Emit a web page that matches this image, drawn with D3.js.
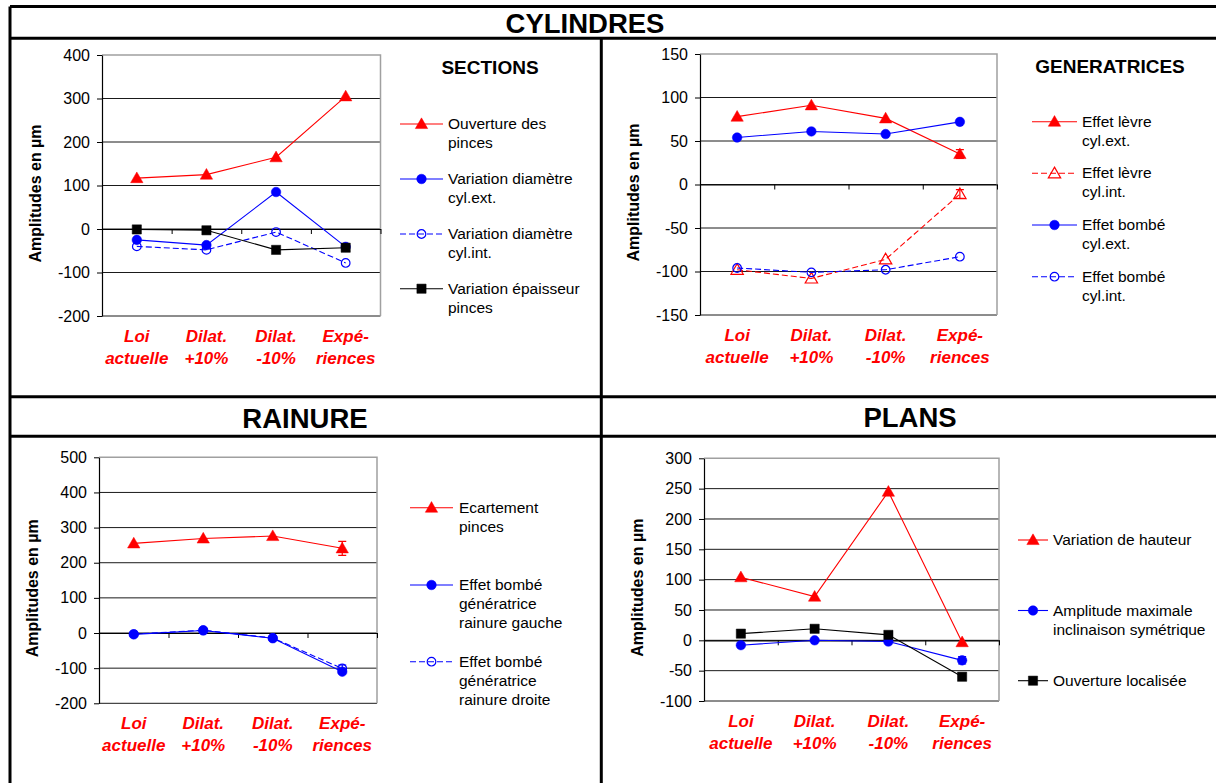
<!DOCTYPE html>
<html>
<head>
<meta charset="utf-8">
<script src="https://cdnjs.cloudflare.com/ajax/libs/d3/7.8.5/d3.min.js"></script>
<style>
    body { margin: 0; background: #fff; }
    svg { display: block; }
</style>
</head>
<body>
<div id="canvas"></div>
<script>
"use strict"

/* categories shared by the four charts (two lines each) */
let categories = [["Loi", "actuelle"], ["Dilat.", "+10%"], ["Dilat.", "-10%"], ["Expé-", "riences"]];

/* SECTIONS */
let sectionsTicks = [-200, -100, 0, 100, 200, 300, 400];
let ouverturePinces = [117, 125, 165, 305];
let diamCylExt = [-25, -37, 85, -41];
let diamCylInt = [-40, -48, -7, -78];
let epaisseurPinces = [-1, -3, -48, -43];

/* GENERATRICES */
let generatricesTicks = [-150, -100, -50, 0, 50, 100, 150];
let levreCylExt = [78, 91, 76, 35];
let levreCylExtErr = [0, 0, 0, 5];
let levreCylInt = [-98, -108, -86, -11];
let levreCylIntErr = [0, 0, 0, 5];
let bombeCylExt = [54, 61, 58, 72];
let bombeCylInt = [-96, -101, -98, -83];

/* RAINURE */
let rainureTicks = [-200, -100, 0, 100, 200, 300, 400, 500];
let ecartementPinces = [255, 269, 276, 241];
let ecartementErr = [0, 0, 0, 20];
let bombeGauche = [-4, 7, -15, -110];
let bombeDroite = [-3, 8, -14, -101];
let bombeDroiteErr = [0, 0, 0, 10];

/* PLANS */
let plansTicks = [-100, -50, 0, 50, 100, 150, 200, 250, 300];
let hauteur = [104, 72, 245, -3];
let inclinaison = [-8, 0, -2, -33];
let inclinaisonErr = [0, 0, 0, 6];
let ouvertureLocalisee = [11, 19, 9, -60];

let font = "'Liberation Sans', Arial, sans-serif";

let drawing = d3.select("#canvas")
    .append("svg")
    .attr("width", 1216)
    .attr("height", 783);

drawing.append("rect")
    .attr("width", 1216)
    .attr("height", 783)
    .attr("fill", "white");

/* black frame of the table */
let frameLines = [
    [10, 6.5, 1216, 6.5],
    [10, 6.5, 10, 783],
    [10, 38.3, 1216, 38.3],
    [601.3, 38.3, 601.3, 783],
    [10, 396.7, 1216, 396.7],
    [10, 436.3, 1216, 436.3]
];
drawing.selectAll(".frame")
    .data(frameLines)
    .enter()
    .append("line")
    .attr("x1", d => d[0])
    .attr("y1", d => d[1])
    .attr("x2", d => d[2])
    .attr("y2", d => d[3])
    .attr("stroke", "black")
    .attr("stroke-width", 3);

/* big titles of the table */
let bigTitles = [["CYLINDRES", 585, 33], ["RAINURE", 305, 428], ["PLANS", 910, 427]];
drawing.selectAll(".bigTitle")
    .data(bigTitles)
    .enter()
    .append("text")
    .attr("x", d => d[1])
    .attr("y", d => d[2])
    .attr("text-anchor", "middle")
    .attr("font-family", font)
    .attr("font-weight", "bold")
    .attr("font-size", 27.5)
    .text(d => d[0]);

function drawPanel(p) {
    let g = drawing.append("g");
    let ticks = p.ticks;

    let x = d3.scaleBand()
        .domain(d3.range(categories.length))
        .range([p.left, p.right]);
    let xEdge = d3.scaleLinear()
        .domain([0, categories.length])
        .range([p.left, p.right]);
    let y = d3.scaleLinear()
        .domain([d3.min(ticks), d3.max(ticks)])
        .range([p.bottom, p.top]);
    let cx = i => x(i) + x.bandwidth() / 2;

    /* gridlines */
    g.selectAll(".grid")
        .data(ticks.slice(0, -1))
        .enter()
        .append("line")
        .attr("x1", p.left)
        .attr("x2", p.right)
        .attr("y1", d => y(d))
        .attr("y2", d => y(d))
        .attr("stroke", "#1a1a1a")
        .attr("stroke-width", 1);

    /* grey border of the plot area (top and right) */
    g.append("path")
        .attr("d", `M${p.left},${y(d3.max(ticks))}H${p.right}V${p.bottom}`)
        .attr("fill", "none")
        .attr("stroke", "#a0a0a0")
        .attr("stroke-width", 1.5);

    /* y axis */
    let yAxis = g.append("g")
        .attr("transform", `translate(${p.left},0)`)
        .call(d3.axisLeft(y).tickValues(ticks).tickFormat(d => String(d)).tickSize(5).tickSizeOuter(0).tickPadding(7));
    yAxis.select(".domain").attr("stroke", "black").attr("stroke-width", 1.2);
    yAxis.selectAll(".tick line").attr("stroke", "black");
    yAxis.selectAll("text")
        .attr("font-family", font)
        .attr("font-size", 16)
        .attr("fill", "black");

    /* category axis, crossing at zero */
    let xAxis = g.append("g")
        .attr("transform", `translate(0,${y(0)})`)
        .call(d3.axisBottom(xEdge).tickValues(d3.range(1, categories.length + 1)).tickSize(5).tickSizeOuter(0).tickFormat(""));
    xAxis.select(".domain").attr("stroke", "black").attr("stroke-width", 1.2);
    xAxis.selectAll(".tick line").attr("stroke", "black");

    /* red category labels */
    let labels = g.selectAll(".catLabel")
        .data(categories)
        .enter()
        .append("text")
        .attr("text-anchor", "middle")
        .attr("font-family", font)
        .attr("font-weight", "bold")
        .attr("font-style", "italic")
        .attr("font-size", 17)
        .attr("fill", "#ff0000");
    labels.append("tspan")
        .attr("x", (d, i) => cx(i))
        .attr("y", p.bottom + 26)
        .text(d => d[0]);
    labels.append("tspan")
        .attr("x", (d, i) => cx(i))
        .attr("y", p.bottom + 48)
        .text(d => d[1]);

    /* y axis title */
    g.append("text")
        .attr("transform", `translate(${p.left - 67},${(p.top + p.bottom) / 2 + 8}) rotate(-90)`)
        .attr("text-anchor", "middle")
        .attr("dy", "0.35em")
        .attr("font-family", font)
        .attr("font-weight", "bold")
        .attr("font-size", 16)
        .text("Amplitudes en µm");

    /* chart subtitle */
    if (p.subtitle) {
        g.append("text")
            .attr("x", p.subtitleX)
            .attr("y", p.top + 19)
            .attr("text-anchor", "middle")
            .attr("font-family", font)
            .attr("font-weight", "bold")
            .attr("font-size", 19)
            .text(p.subtitle);
    }

    let line = d3.line()
        .x((d, i) => cx(i))
        .y(d => y(d));

    p.series.forEach(function (s, k) {
        let sg = g.append("g");
        sg.append("path")
            .attr("d", line(s.values))
            .attr("fill", "none")
            .attr("stroke", s.color)
            .attr("stroke-width", 1.1)
            .attr("stroke-dasharray", s.dashed ? "6,3" : null);

        /* error bars */
        if (s.err) {
            s.values.forEach(function (v, i) {
                if (!s.err[i]) return;
                let eb = d3.path();
                eb.moveTo(cx(i), y(v - s.err[i]));
                eb.lineTo(cx(i), y(v + s.err[i]));
                eb.moveTo(cx(i) - 4, y(v - s.err[i]));
                eb.lineTo(cx(i) + 4, y(v - s.err[i]));
                eb.moveTo(cx(i) - 4, y(v + s.err[i]));
                eb.lineTo(cx(i) + 4, y(v + s.err[i]));
                sg.append("path")
                    .attr("d", eb.toString())
                    .attr("fill", "none")
                    .attr("stroke", s.color)
                    .attr("stroke-width", 1.2);
            });
        }

        let sym = d3.symbol().type(s.marker).size(s.size);
        sg.selectAll(".pt")
            .data(s.values)
            .enter()
            .append("path")
            .attr("d", sym())
            .attr("transform", (d, i) => `translate(${cx(i)},${y(d) + (s.marker === d3.symbolTriangle ? 1 : 0)})`)
            .attr("fill", s.filled ? s.color : "none")
            .attr("stroke", s.color)
            .attr("stroke-width", s.filled ? 0.5 : 1.2);

        /* legend entry */
        let ly = p.legendY[k];
        let lg = g.append("g");
        lg.append("line")
            .attr("x1", p.legendX1)
            .attr("x2", p.legendX2)
            .attr("y1", ly)
            .attr("y2", ly)
            .attr("stroke", s.color)
            .attr("stroke-width", 1.1)
            .attr("stroke-dasharray", s.dashed ? "6,3" : null);
        lg.append("path")
            .attr("d", sym())
            .attr("transform", `translate(${(p.legendX1 + p.legendX2) / 2},${ly + (s.marker === d3.symbolTriangle ? 1 : 0)})`)
            .attr("fill", s.filled ? s.color : "white")
            .attr("fill-opacity", s.filled ? 1 : 0)
            .attr("stroke", s.color)
            .attr("stroke-width", s.filled ? 0.5 : 1.2);
        let lt = lg.append("text")
            .attr("font-family", font)
            .attr("font-size", 15.5)
            .attr("fill", "black");
        s.name.forEach(function (n, j) {
            lt.append("tspan")
                .attr("x", p.legendTextX)
                .attr("y", ly + 5 + j * 19)
                .text(n);
        });
    });
}

let triSize = 66, circSize = 72, hollowSize = 58, sqSize = 85;

drawPanel({
    left: 102, right: 380.5, top: 55, bottom: 316,
    ticks: sectionsTicks,
    subtitle: "SECTIONS", subtitleX: 490,
    legendX1: 400, legendX2: 443, legendTextX: 448,
    legendY: [124, 179, 234, 288.7],
    series: [
        { name: ["Ouverture des", "pinces"], values: ouverturePinces, color: "#ff0000", marker: d3.symbolTriangle, size: triSize, filled: true },
        { name: ["Variation diamètre", "cyl.ext."], values: diamCylExt, color: "#0000ff", marker: d3.symbolCircle, size: circSize, filled: true },
        { name: ["Variation diamètre", "cyl.int."], values: diamCylInt, color: "#0000ff", marker: d3.symbolCircle, size: hollowSize, filled: false, dashed: true },
        { name: ["Variation épaisseur", "pinces"], values: epaisseurPinces, color: "#000000", marker: d3.symbolSquare, size: sqSize, filled: true }
    ]
});

drawPanel({
    left: 700, right: 997, top: 54, bottom: 315,
    ticks: generatricesTicks,
    subtitle: "GENERATRICES", subtitleX: 1110,
    legendX1: 1032, legendX2: 1077, legendTextX: 1082,
    legendY: [121.7, 173.3, 225, 276.7],
    series: [
        { name: ["Effet lèvre", "cyl.ext."], values: levreCylExt, err: levreCylExtErr, color: "#ff0000", marker: d3.symbolTriangle, size: triSize, filled: true },
        { name: ["Effet lèvre", "cyl.int."], values: levreCylInt, err: levreCylIntErr, color: "#ff0000", marker: d3.symbolTriangle, size: triSize, filled: false, dashed: true },
        { name: ["Effet bombé", "cyl.ext."], values: bombeCylExt, color: "#0000ff", marker: d3.symbolCircle, size: circSize, filled: true },
        { name: ["Effet bombé", "cyl.int."], values: bombeCylInt, color: "#0000ff", marker: d3.symbolCircle, size: hollowSize, filled: false, dashed: true }
    ]
});

drawPanel({
    left: 99, right: 377, top: 457.3, bottom: 703.3,
    ticks: rainureTicks,
    legendX1: 410, legendX2: 453, legendTextX: 459,
    legendY: [507.7, 585, 661.7],
    series: [
        { name: ["Ecartement", "pinces"], values: ecartementPinces, err: ecartementErr, color: "#ff0000", marker: d3.symbolTriangle, size: triSize, filled: true },
        { name: ["Effet bombé", "génératrice", "rainure gauche"], values: bombeGauche, color: "#0000ff", marker: d3.symbolCircle, size: circSize, filled: true },
        { name: ["Effet bombé", "génératrice", "rainure droite"], values: bombeDroite, err: bombeDroiteErr, color: "#0000ff", marker: d3.symbolCircle, size: hollowSize, filled: false, dashed: true }
    ]
});

drawPanel({
    left: 704, right: 999, top: 458.3, bottom: 701,
    ticks: plansTicks,
    legendX1: 1018, legendX2: 1048, legendTextX: 1053,
    legendY: [540, 610.5, 680.7],
    series: [
        { name: ["Variation de hauteur"], values: hauteur, color: "#ff0000", marker: d3.symbolTriangle, size: triSize, filled: true },
        { name: ["Amplitude maximale", "inclinaison symétrique"], values: inclinaison, err: inclinaisonErr, color: "#0000ff", marker: d3.symbolCircle, size: circSize, filled: true },
        { name: ["Ouverture localisée"], values: ouvertureLocalisee, color: "#000000", marker: d3.symbolSquare, size: sqSize, filled: true }
    ]
});
</script>
</body>
</html>
